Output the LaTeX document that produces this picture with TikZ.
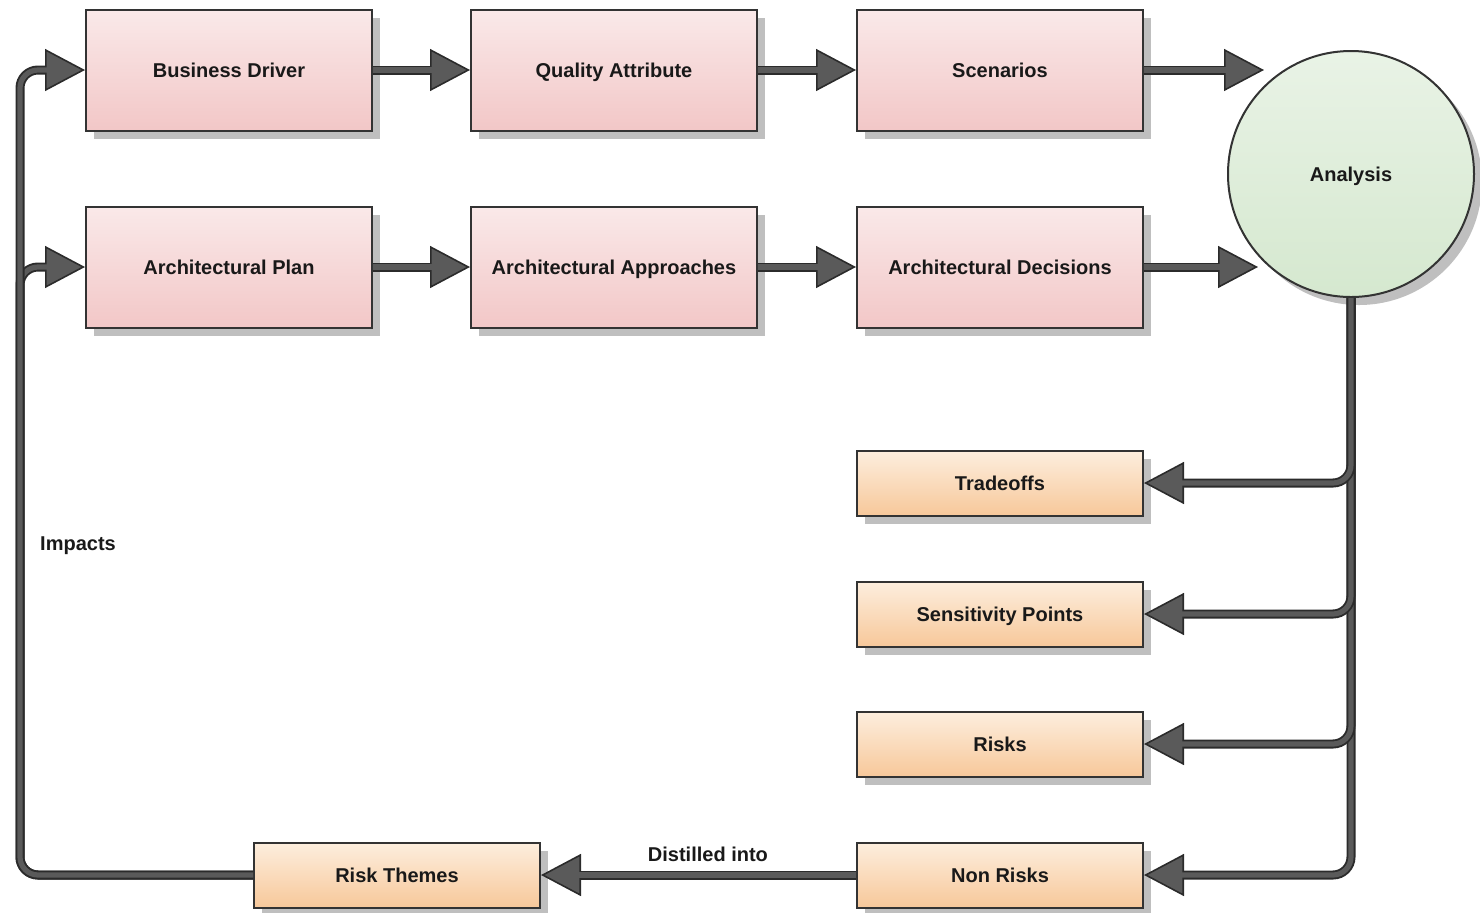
\documentclass[tikz,border=0pt]{standalone}
\usepackage{fontspec}
\setmainfont{Liberation Sans}
\usetikzlibrary{arrows.meta,shadows}
\definecolor{pinktop}{HTML}{FAE9E9}
\definecolor{pinkbot}{HTML}{F2C7C7}
\definecolor{orgtop}{HTML}{FDEEDE}
\definecolor{orgbot}{HTML}{F7C89A}
\definecolor{grntop}{HTML}{E9F3E6}
\definecolor{grnbot}{HTML}{D5E8CF}
\definecolor{linedge}{HTML}{2B2B2B}
\definecolor{linegray}{HTML}{5A5A5A}
\begin{document}
\begin{tikzpicture}[x=0.5pt,y=-0.5pt,
    every node/.style={font=\bfseries\fontsize{10}{12}\selectfont,text=black!90,text height=7.2pt,text depth=0pt},
    box/.style={draw=black!80,line width=1pt,minimum width=143pt,minimum height=60.5pt,
      drop shadow={shadow xshift=4pt,shadow yshift=-4pt,fill=black!25,opacity=1}},
    pinkbox/.style={box,top color=pinktop,bottom color=pinkbot},
    orangebox/.style={box,minimum height=32.5pt,top color=orgtop,bottom color=orgbot},
    flow/.style={draw=linedge,line width=4.5pt,rounded corners=9pt,
      -{Triangle[length=20pt,width=21pt,line width=0.8pt,color=linedge,fill=linegray]},
      postaction={draw=linegray,line width=2.6pt,-,shorten >=18pt}}]
  \useasboundingbox (0,0) rectangle (1480,912);
  % boxes
  \node[pinkbox] (bd) at (229,70) {Business Driver};
  \node[pinkbox] (qa) at (614,70) {Quality Attribute};
  \node[pinkbox] (sc) at (1000,70) {Scenarios};
  \node[pinkbox] (ap) at (229,267) {Architectural Plan};
  \node[pinkbox] (aa) at (614,267) {Architectural Approaches};
  \node[pinkbox] (ad) at (1000,267) {Architectural Decisions};
  \node[circle,draw=black!80,line width=1pt,minimum size=123pt,top color=grntop,bottom color=grnbot,
    drop shadow={shadow xshift=4pt,shadow yshift=-4pt,fill=black!25,opacity=1}] (ana) at (1351,174) {Analysis};
  \node[orangebox] (trd) at (1000,483) {Tradeoffs};
  \node[orangebox] (sp) at (1000,614) {Sensitivity Points};
  \node[orangebox] (rk) at (1000,744) {Risks};
  \node[orangebox] (nr) at (1000,875) {Non Risks};
  \node[orangebox] (rt) at (397,875) {Risk Themes};
  \node (imp) at (78,543) {Impacts};
  \coordinate (scend) at (1264,70);
  \coordinate (adend) at (1258,267);
  \coordinate (lp1) at (20,70);
  \coordinate (lp2) at (20,267);
  % connectors
  \draw[flow] (bd.east) -- (qa.west);
  \draw[flow] (qa.east) -- (sc.west);
  \draw[flow] (sc.east) -- (scend);
  \draw[flow] (ap.east) -- (aa.west);
  \draw[flow] (aa.east) -- (ad.west);
  \draw[flow] (ad.east) -- (adend);
  \draw[flow] (ana.south) |- (nr.east);
  \draw[flow] (ana.south) |- (rk.east);
  \draw[flow] (ana.south) |- (sp.east);
  \draw[flow] (ana.south) |- (trd.east);
  \draw[flow] (nr.west) -- node[pos=0.47,above,yshift=1pt] (dst) {Distilled into} (rt.east);
  \draw[flow] (rt.west) -| (lp2) -- (ap.west);
  \draw[flow] (rt.west) -| (lp1) -- (bd.west);
\end{tikzpicture}
\end{document}
